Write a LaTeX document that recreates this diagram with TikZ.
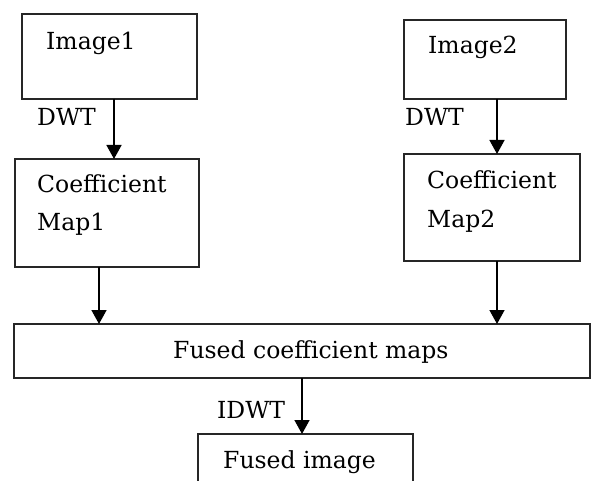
\documentclass[tikz,border=0pt]{standalone}
\usepackage{fontspec}
\setmainfont{DejaVu Serif}
\usetikzlibrary{arrows.meta}
\begin{document}
\begin{tikzpicture}[x=1pt,y=-1pt,
  box/.style={draw=black!85,line width=1.4pt,rectangle,inner sep=0pt,outer sep=0pt},
  lbl/.style={anchor=base west,inner sep=0pt,font=\fontsize{23.5}{23.5}\selectfont},
  arr/.style={draw=black,line width=1.5pt,-{Triangle[length=14pt,width=15pt]}}]
\useasboundingbox (0,0) rectangle (594,481);
\clip (0,0) rectangle (594,481);
% boxes
\node[box,minimum width=175pt,minimum height=85pt] (img1) at (109.5,56.5) {};
\node[box,minimum width=162pt,minimum height=79pt] (img2) at (485,59.5) {};
\node[box,minimum width=184pt,minimum height=108pt] (coef1) at (107,213) {};
\node[box,minimum width=176pt,minimum height=107pt] (coef2) at (492,207.5) {};
\node[box,minimum width=576pt,minimum height=54pt] (fused) at (302,351) {};
\node[box,minimum width=215pt,minimum height=80pt] (final) at (305.5,474) {};
% texts
\node[lbl] (t1) at (46,50) {Image1};
\node[lbl] (t2) at (428,54) {Image2};
\node[lbl] (d1) at (37,126) {DWT};
\node[lbl] (d2) at (405,126) {DWT};
\node[lbl] (c1) at (37,193) {Coefficient};
\node[lbl] (m1) at (37,230) {Map1};
\node[lbl] (c2) at (427,189) {Coefficient};
\node[lbl] (m2) at (427,227) {Map2};
\node[lbl] (ft) at (173,358) {Fused coefficient maps};
\node[lbl] (id) at (217,418) {IDWT};
\node[lbl] (fi) at (223,468) {Fused image};
% connectors
\draw[arr] ([xshift=4.5pt]img1.south) -- ([xshift=7pt]coef1.north);
\draw[arr] ([xshift=12pt]img2.south) -- ([xshift=5pt]coef2.north);
\draw[arr] ([xshift=-8pt]coef1.south) coordinate (a1) -- (a1 |- fused.north);
\draw[arr] ([xshift=5pt]coef2.south) coordinate (a2) -- (a2 |- fused.north);
\draw[arr] (fused.south) -- (fused.south |- final.north);
\end{tikzpicture}
\end{document}
